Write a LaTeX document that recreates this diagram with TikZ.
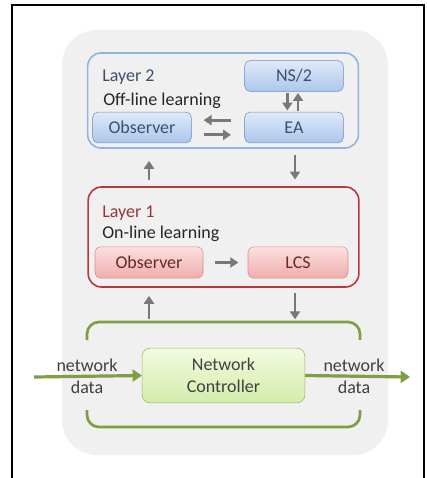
\documentclass[tikz,border=0pt]{standalone}
\usepackage{fontspec}
\setmainfont{Carlito}
\usetikzlibrary{arrows.meta,positioning}

\definecolor{panelgray}{RGB}{240,240,240}
\definecolor{layerblue}{RGB}{141,180,226}
\definecolor{boxblueedge}{RGB}{110,140,195}
\definecolor{boxbluetop}{RGB}{224,234,248}
\definecolor{boxbluebot}{RGB}{172,198,236}
\definecolor{bluetext}{RGB}{62,78,108}
\definecolor{layerred}{RGB}{185,55,60}
\definecolor{redtext}{RGB}{150,55,55}
\definecolor{boxrededge}{RGB}{215,140,140}
\definecolor{boxredtop}{RGB}{252,224,224}
\definecolor{boxredbot}{RGB}{240,172,172}
\definecolor{greenedge}{RGB}{150,185,85}
\definecolor{greenline}{RGB}{128,158,66}
\definecolor{greentop}{RGB}{242,251,224}
\definecolor{greenbot}{RGB}{212,236,172}
\definecolor{arrowgray}{RGB}{120,120,120}
\definecolor{textgray}{RGB}{64,64,64}

\begin{document}
\begin{tikzpicture}[
            x=0.75pt, y=-0.75pt,
            font=\fontsize{13.5}{16.5}\selectfont,
            panel/.style={fill=panelgray, rounded corners=26pt, minimum width=244.5pt, minimum height=318.75pt},
            layer/.style={draw, line width=1.2pt, rounded corners=10pt, minimum width=203pt},
            bluebox/.style={draw=boxblueedge, rounded corners=4pt, top color=boxbluetop, bottom color=boxbluebot, text=bluetext, minimum width=74pt, minimum height=23pt},
            redbox/.style={draw=boxrededge, rounded corners=4pt, top color=boxredtop, bottom color=boxredbot, text=redtext!70!black, minimum width=78pt, minimum height=23.5pt},
            ctrlbox/.style={draw=greenedge, rounded corners=6pt, top color=greentop, bottom color=greenbot, text=textgray, minimum width=122pt, minimum height=41pt, align=center},
            title/.style={anchor=base west, inner sep=0pt},
            flow/.style={draw=arrowgray, line width=2.2pt, -{Triangle[length=6pt, width=7.5pt]}, arrowgray},
            netflow/.style={draw=greenline, line width=2.4pt, -{Triangle[length=7pt, width=9pt]}, greenline},
            bracket/.style={greenline, line width=2pt, rounded corners=9pt}
        ]

        \useasboundingbox (0,0) rectangle (426,478);

        % outer frame
        \draw[line width=1.6pt] (12,478) -- (12,5) -- (424,5) -- (424,478);

        \node[panel] (panel) at (225,242.5) {};

        % Layer 2
        \node[layer, draw=layerblue, minimum height=71.25pt] (l2) at (223,100.5) {};
        \node[title, text=bluetext] (l2title) at (102,82) {Layer 2};
        \node[title, text=black!85] (l2sub) at (103,105) {Off-line learning};
        \node[bluebox] (ns) at (294,76) {NS/2};
        \node[bluebox] (ea) at (294,127.5) {EA};
        \node[bluebox] (obs2) at (142,127.5) {Observer};

        % Layer 1
        \node[layer, draw=layerred, minimum height=75pt] (l1) at (223.5,237) {};
        \node[title, text=redtext] (l1title) at (102,217) {Layer 1};
        \node[title, text=black!85] (l1sub) at (102,238) {On-line learning};
        \node[redbox, minimum width=81pt] (obs1) at (149,262.5) {Observer};
        \node[redbox, minimum width=75pt] (lcs) at (298,262.5) {LCS};

        % Network controller
        \node[ctrlbox] (ctrl) at (223.5,375.5) {Network\\Controller};
        \coordinate (brtop) at (223.5,322);
        \coordinate (brbot) at (223.5,427);
        \draw[bracket] (87,340) -- (87,0 |- brtop) -- (360,0 |- brtop) -- (360,340);
        \draw[bracket] (87,410) -- (87,0 |- brbot) -- (360,0 |- brbot) -- (360,410);

        % arrows inside layer 2
        \draw[flow, shorten <=1pt, shorten >=1pt] ([xshift=-5pt]ns.south) -- ([xshift=-5pt]ea.north);
        \draw[flow, shorten <=1pt, shorten >=1pt] ([xshift=3pt]ea.north) -- ([xshift=3pt]ns.south);
        \draw[flow, shorten <=10pt, shorten >=9pt] ([yshift=5.5pt]ea.west) -- ([yshift=5.5pt]obs2.east);
        \draw[flow, shorten <=9pt, shorten >=10pt] ([yshift=-5.5pt]obs2.east) -- ([yshift=-5.5pt]ea.west);

        % arrow inside layer 1
        \draw[flow, shorten <=9pt, shorten >=7pt] (obs1) -- (lcs);

        % arrows between layers
        \draw[flow, shorten <=5pt, shorten >=9pt] (obs1 |- l1.north) -- (obs1 |- l2.south);
        \draw[flow, shorten <=5pt, shorten >=5pt] (295,0 |- l2.south) -- (295,0 |- l1.north);
        \draw[flow, shorten <=2pt, shorten >=6pt] (obs1 |- brtop) -- (obs1 |- l1.south);
        \draw[flow, shorten <=4pt, shorten >=2pt] (295,0 |- l1.south) -- (295,0 |- brtop);

        % network data in and out
        \coordinate (datain) at (34,377);
        \coordinate (dataout) at (410,377);
        \draw[netflow] (datain) -- (ctrl.west);
        \draw[netflow] (ctrl.east) -- (dataout);
        \node[text=textgray, align=center] (inlabel) at (87,376) {network\\data};
        \node[text=textgray, align=center] (outlabel) at (354,376) {network\\data};

    \end{tikzpicture}
\end{document}
